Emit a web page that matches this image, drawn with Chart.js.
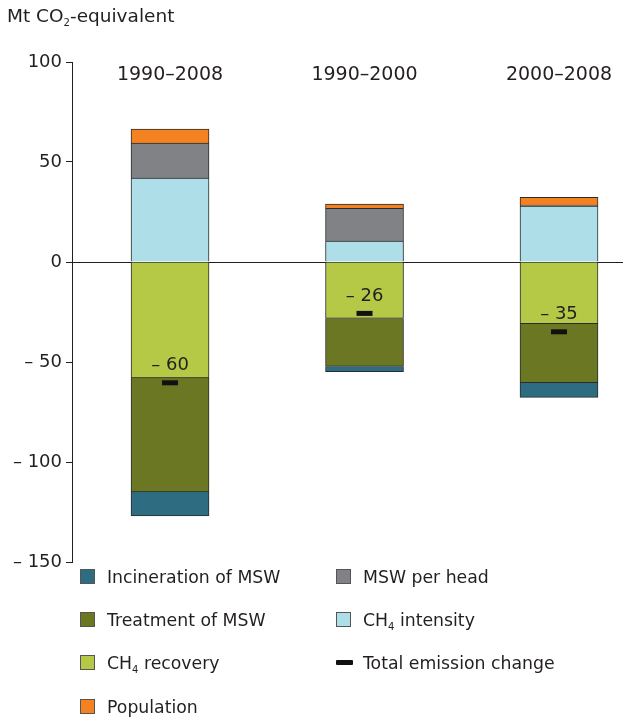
<!DOCTYPE html>
<html lang="en">
<head>
    <meta charset="UTF-8">
    <title>Waste emission change decomposition</title>
    <script src="https://cdn.jsdelivr.net/npm/chart.js"></script>
    <style>
        html, body { margin: 0; padding: 0; background: #fff; }
        body { font-family: "DejaVu Sans", Verdana, sans-serif; color: #231f20; }
        .wrap { position: relative; width: 623px; height: 719px; overflow: hidden; }
        #myChart { position: absolute; left: 0; top: 0; }
        .unit { position: absolute; left: 7px; top: 5px; font-size: 18.5px; white-space: nowrap; }
        sub { font-size: 10px; vertical-align: -4px; line-height: 0; }
        .legend { position: absolute; left: 0; top: 0; font-size: 17.3px; }
        .item { position: absolute; white-space: nowrap; height: 22px; line-height: 22px; }
        .box { position: absolute; left: 0; top: 3px; width: 15px; height: 15px; box-sizing: border-box; border: 1px solid #555; }
        .dash { position: absolute; left: 0; top: 8px; width: 17px; height: 5px; background: #111; border-radius: 1px; }
        .item span.t { position: absolute; left: 27px; top: 0; }
    </style>
</head>
<body>
<div class="wrap">
    <canvas id="myChart" width="623" height="719"></canvas>
    <div class="unit">Mt CO<sub>2</sub>-equivalent</div>
    <div class="legend" id="legend"></div>
</div>
<script>
    // periods and contributions (Mt CO2-eq)
    const periods = ['1990\u20132008', '1990\u20132000', '2000\u20132008'];
    const ch4Recovery = [-58, -28.2, -30.8];
    const treatment = [-57, -24, -29.5];
    const incineration = [-12, -2.6, -7.4];
    const ch4Intensity = [42, 10.5, 28];
    const mswPerHead = [17.5, 16.3, 0.4];
    const population = [7, 2.2, 3.9];
    const totalChange = [-60.4, -25.7, -34.9];
    const yTicks = [100, 50, 0, -50, -100, -150];

    const colors = {
        incineration: '#2e6c82',
        treatment: '#6b7722',
        recovery: '#b5c947',
        population: '#f58220',
        perHead: '#808285',
        intensity: '#aedfe8'
    };
    const textColor = '#231f20';
    const font = '"DejaVu Sans", Verdana, sans-serif';

    function pts(arr) {
        return arr.map((v, i) => ({ x: i, y: v }));
    }

    function barSet(label, arr, color) {
        return {
            type: 'bar',
            label: label,
            data: pts(arr),
            backgroundColor: color,
            borderColor: '#2b2b2b',
            borderWidth: 1,
            barThickness: 78,
            stack: 'bars',
            order: 1
        };
    }

    function fmt(v) {
        return v < 0 ? '\u2013 ' + Math.abs(v) : String(v);
    }

    // period names above the bars and the total labels above the markers
    const labelsPlugin = {
        id: 'labelsPlugin',
        afterDatasetsDraw(chart) {
            const ctx = chart.ctx;
            const xs = chart.scales.x;
            ctx.save();
            ctx.fillStyle = textColor;
            ctx.textAlign = 'center';
            ctx.textBaseline = 'middle';
            ctx.font = '19px ' + font;
            periods.forEach((p, i) => {
                ctx.fillText(p, xs.getPixelForValue(i), 75);
            });
            ctx.font = '18px ' + font;
            const meta = chart.getDatasetMeta(chart.data.datasets.length - 1);
            meta.data.forEach((pt, i) => {
                ctx.fillText(fmt(Math.round(totalChange[i])), pt.x, pt.y - 17);
            });
            ctx.restore();
        }
    };

    const ctx = document.getElementById('myChart').getContext('2d');
    new Chart(ctx, {
        data: {
            datasets: [
                barSet('CH4 recovery', ch4Recovery, colors.recovery),
                barSet('Treatment of MSW', treatment, colors.treatment),
                barSet('Incineration of MSW', incineration, colors.incineration),
                barSet('CH4 intensity', ch4Intensity, colors.intensity),
                barSet('MSW per head', mswPerHead, colors.perHead),
                barSet('Population', population, colors.population),
                {
                    type: 'line',
                    label: 'Total emission change',
                    data: pts(totalChange),
                    showLine: false,
                    pointStyle: 'line',
                    pointRadius: 8,
                    pointHoverRadius: 8,
                    pointBorderWidth: 5,
                    borderColor: '#111',
                    backgroundColor: '#111',
                    stack: 'total',
                    order: 0
                }
            ]
        },
        options: {
            responsive: false,
            animation: false,
            layout: { autoPadding: false, padding: { top: 62, bottom: 157, left: 0, right: 0 } },
            plugins: {
                legend: { display: false },
                tooltip: { enabled: false }
            },
            scales: {
                x: {
                    type: 'linear',
                    display: false,
                    stacked: true,
                    offset: false,
                    min: -0.504,
                    max: 2.329
                },
                y: {
                    stacked: true,
                    min: -150,
                    max: 100,
                    afterFit(scale) { scale.width = 72; },
                    afterBuildTicks(scale) { scale.ticks = yTicks.map(v => ({ value: v })); },
                    border: { display: true, color: textColor, width: 1 },
                    grid: {
                        color: c => (c.tick && c.tick.value === 0 ? textColor : 'rgba(0,0,0,0)'),
                        tickColor: textColor,
                        tickLength: 6,
                        drawOnChartArea: true
                    },
                    ticks: {
                        padding: 4,
                        color: textColor,
                        font: { family: font, size: 18 },
                        callback: v => fmt(v)
                    }
                }
            }
        },
        plugins: [labelsPlugin]
    });

    // two-column legend under the plot
    const legendItems = [
        { label: 'Incineration of MSW', color: colors.incineration, x: 80, y: 577 },
        { label: 'Treatment of MSW', color: colors.treatment, x: 80, y: 620 },
        { label: 'CH<sub>4</sub> recovery', color: colors.recovery, x: 80, y: 663 },
        { label: 'Population', color: colors.population, x: 80, y: 707 },
        { label: 'MSW per head', color: colors.perHead, x: 336, y: 577 },
        { label: 'CH<sub>4</sub> intensity', color: colors.intensity, x: 336, y: 620 },
        { label: 'Total emission change', dash: true, x: 336, y: 663 }
    ];
    const legend = document.getElementById('legend');
    legendItems.forEach(it => {
        const d = document.createElement('div');
        d.className = 'item';
        d.style.left = it.x + 'px';
        d.style.top = (it.y - 11) + 'px';
        const mark = it.dash
            ? '<span class="dash"></span>'
            : '<span class="box" style="background:' + it.color + '"></span>';
        d.innerHTML = mark + '<span class="t">' + it.label + '</span>';
        legend.appendChild(d);
    });
</script>
</body>
</html>
